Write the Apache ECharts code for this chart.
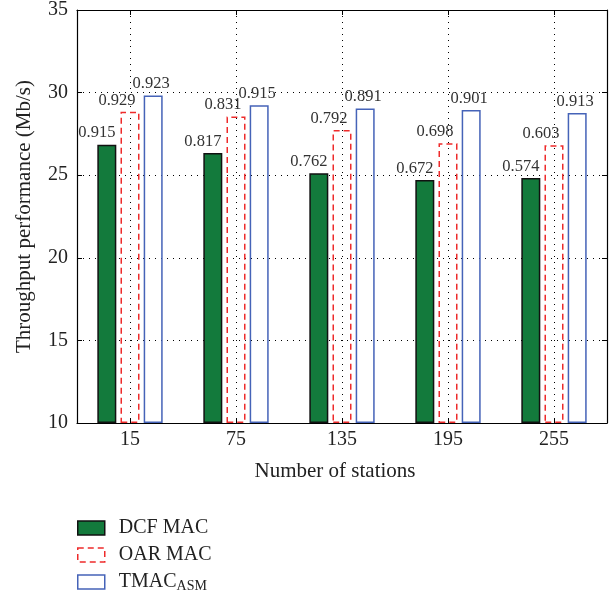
<!DOCTYPE html>
<html>
<head>
<meta charset="utf-8">
<script src="https://cdn.jsdelivr.net/npm/echarts@6/dist/echarts.min.js"></script>
<style>
html,body{margin:0;padding:0;background:#fff;}
#chart{width:615px;height:598px;}
</style>
</head>
<body>
<div id="chart"></div>
<script>
var categories = ['15', '75', '135', '195', '255'];
var dcfValues = [26.85, 26.35, 25.12, 24.71, 24.83];
var oarValues = [28.84, 28.56, 27.73, 26.93, 26.81];
var tmacValues = [29.83, 29.24, 29.04, 28.94, 28.76];
var dcfLabels = ['0.915', '0.817', '0.762', '0.672', '0.574'];
var oarLabels = ['0.929', '0.831', '0.792', '0.698', '0.603'];
var tmacLabels = ['0.923', '0.915', '0.891', '0.901', '0.913'];
var yTicks = [10, 15, 20, 25, 30, 35];

var FONT = 'Liberation Serif';
var chart = echarts.init(document.getElementById('chart'));

function lbl(arr, dx) {
  return {
    show: true,
    position: 'top',
    distance: 3,
    offset: [dx, 0],
    fontFamily: FONT,
    fontSize: 16.5,
    color: '#333',
    formatter: function (p) { return arr[p.dataIndex]; }
  };
}

var option = {
  animation: false,
  backgroundColor: '#fff',
  grid: { left: 77, right: 8, top: 9, bottom: 175 },
  legend: {
    orient: 'vertical',
    left: 77,
    top: 518,
    height: 80,
    padding: 0,
    itemWidth: 27,
    itemHeight: 14,
    itemGap: 7,
    textStyle: {
      fontFamily: FONT, fontSize: 20, lineHeight: 20, color: '#222', padding: [0, 0, 0, 9],
      rich: {
        a: { fontFamily: FONT, fontSize: 20, lineHeight: 20, color: '#222' },
        b: { fontFamily: FONT, fontSize: 14, color: '#222', padding: [9, 0, 0, 0] }
      }
    },
    formatter: function (name) {
      if (name === 'TMACASM') return '{a|TMAC}{b|ASM}';
      return name;
    },
    data: [
      { name: 'DCF MAC', icon: 'rect', itemStyle: { color: '#137a3c', borderColor: '#111', borderWidth: 1.5 } },
      { name: 'OAR MAC', icon: 'rect', itemStyle: { color: 'rgba(0,0,0,0)', borderColor: '#ee2b2b', borderWidth: 1.5, borderType: [6, 4] } },
      { name: 'TMACASM', icon: 'rect', itemStyle: { color: 'rgba(0,0,0,0)', borderColor: '#4563b8', borderWidth: 1.5 } }
    ]
  },
  xAxis: [{
    type: 'category',
    data: categories,
    position: 'bottom',
    name: 'Number of stations',
    nameLocation: 'middle',
    nameGap: 38,
    nameTextStyle: { fontFamily: FONT, fontSize: 21, color: '#222', padding: [0, 14, 0, 0] },
    axisLine: { show: true, lineStyle: { color: '#000', width: 1.2 } },
    axisTick: { show: true, inside: true, alignWithLabel: true, length: 5, lineStyle: { color: '#000' } },
    axisLabel: { fontFamily: FONT, fontSize: 20, color: '#222', margin: 7 },
    splitLine: { show: false }
  }, {
    type: 'category',
    data: categories,
    position: 'top',
    axisLine: { show: true, lineStyle: { color: '#000', width: 1.2 } },
    axisTick: { show: true, inside: true, alignWithLabel: true, length: 5, lineStyle: { color: '#000' } },
    axisLabel: { show: false },
    splitLine: { show: true, alignWithLabel: true, lineStyle: { color: '#000', type: [1, 5], width: 1 } }
  }],
  yAxis: [{
    type: 'value',
    min: 10, max: 35, interval: 5,
    startValue: 10,
    position: 'left',
    name: 'Throughput performance (Mb/s)',
    nameLocation: 'middle',
    nameGap: 42,
    nameTextStyle: { fontFamily: FONT, fontSize: 21, color: '#222' },
    axisLine: { show: true, lineStyle: { color: '#000', width: 1.2 } },
    axisTick: { show: true, inside: true, length: 5, lineStyle: { color: '#000' } },
    axisLabel: { fontFamily: FONT, fontSize: 20, color: '#222', margin: 9,
      formatter: function (v) { return yTicks.indexOf(v) >= 0 ? String(v) : ''; } },
    splitLine: { show: true, lineStyle: { color: '#000', type: [1, 5], width: 1 } }
  }, {
    type: 'value',
    min: 10, max: 35, interval: 5,
    position: 'right',
    axisLine: { show: true, lineStyle: { color: '#000', width: 1.2 } },
    axisTick: { show: true, inside: true, length: 5, lineStyle: { color: '#000' } },
    axisLabel: { show: false },
    splitLine: { show: false }
  }],
  series: [{
    name: 'DCF MAC',
    type: 'bar',
    data: dcfValues,
    barWidth: 19,
    barGap: '22%',
    itemStyle: { color: '#137a3c', borderColor: '#111', borderWidth: 1.5 },
    label: lbl(dcfLabels, -10)
  }, {
    name: 'OAR MAC',
    type: 'bar',
    data: oarValues,
    barWidth: 19,
    barGap: '22%',
    itemStyle: { color: 'rgba(0,0,0,0)', borderColor: '#ee2b2b', borderWidth: 1.5, borderType: [6, 4] },
    label: lbl(oarLabels, -13)
  }, {
    name: 'TMACASM',
    type: 'bar',
    data: tmacValues,
    barWidth: 19,
    barGap: '22%',
    itemStyle: { color: 'rgba(0,0,0,0)', borderColor: '#4563b8', borderWidth: 1.5 },
    label: lbl(tmacLabels, -2)
  }]
};
chart.setOption(option);
</script>
</body>
</html>
